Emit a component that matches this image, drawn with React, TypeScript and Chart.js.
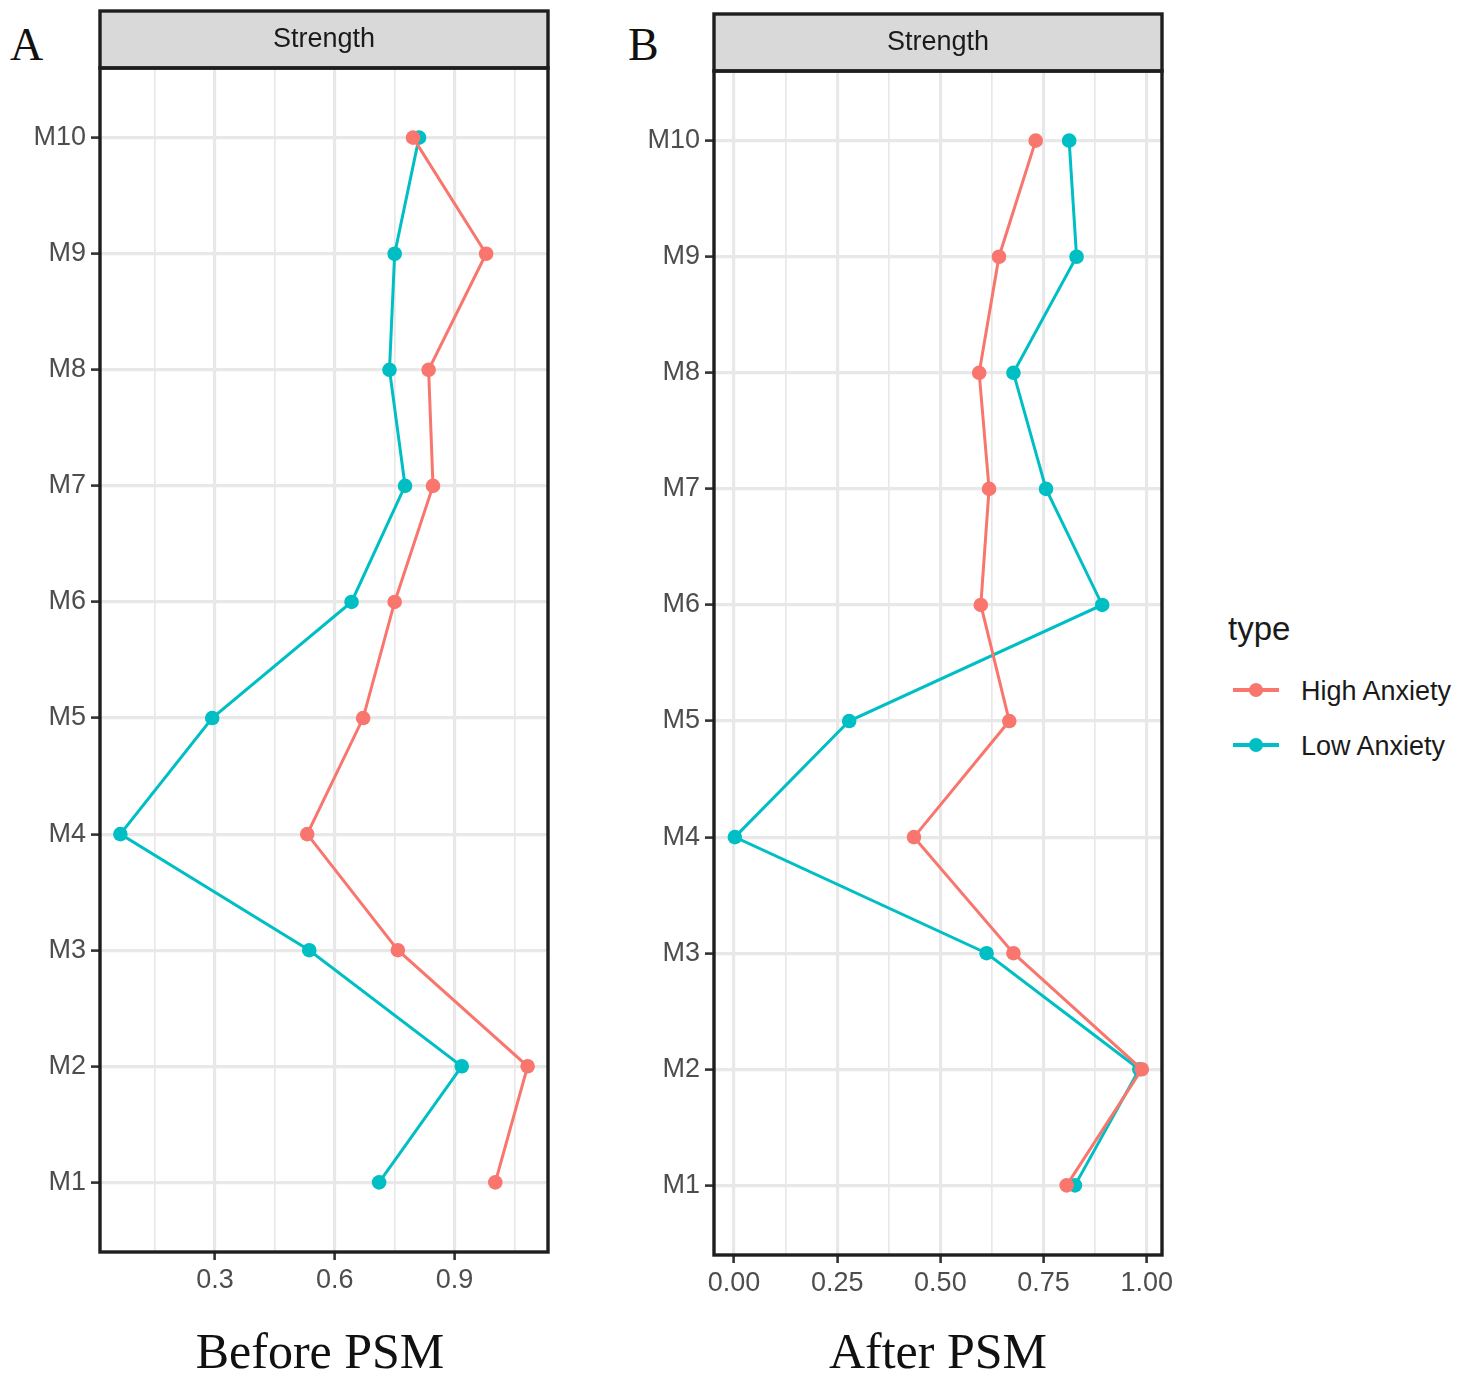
import { useEffect, useRef } from "react";
import { Chart, registerables } from "chart.js";

Chart.register(...registerables);

// --- data ---
const CATEGORIES = ["M1", "M2", "M3", "M4", "M5", "M6", "M7", "M8", "M9", "M10"];
const SERIES_NAMES = ["High Anxiety", "Low Anxiety"];
const SERIES_COLORS = ["#F8766D", "#00BFC4"];

const BEFORE_HIGH = [1.002, 1.083, 0.758, 0.531, 0.671, 0.75, 0.846, 0.835, 0.979, 0.796];
const BEFORE_LOW = [0.711, 0.918, 0.536, 0.063, 0.293, 0.642, 0.776, 0.737, 0.75, 0.811];
const AFTER_HIGH = [0.806, 0.988, 0.677, 0.436, 0.667, 0.598, 0.618, 0.594, 0.642, 0.731];
const AFTER_LOW = [0.826, 0.982, 0.612, 0.002, 0.279, 0.892, 0.756, 0.677, 0.83, 0.812];

const BEFORE_MAJOR = [0.3, 0.6, 0.9];
const BEFORE_MAJOR_LABELS = ["0.3", "0.6", "0.9"];
const BEFORE_MINOR = [0.15, 0.45, 0.75, 1.05];
const AFTER_MAJOR = [0, 0.25, 0.5, 0.75, 1.0];
const AFTER_MAJOR_LABELS = ["0.00", "0.25", "0.50", "0.75", "1.00"];
const AFTER_MINOR = [0.125, 0.375, 0.625, 0.875];

const STRIP_LABEL = "Strength";
const LEGEND_TITLE = "type";

const SANS = '"Liberation Sans", Arial, sans-serif';
const SERIF = '"Liberation Serif", "Times New Roman", serif';

interface PanelProps {
  left: number;
  top: number;
  high: number[];
  low: number[];
  xMin: number;
  xMax: number;
  major: number[];
  majorLabels: string[];
  minor: number[];
}

function Panel({ left, top, high, low, xMin, xMax, major, majorLabels, minor }: PanelProps) {
  const canvasRef = useRef<HTMLCanvasElement | null>(null);

  useEffect(() => {
    const canvas = canvasRef.current;
    if (!canvas) return;

    // strip + panel border, drawn on top like ggplot's theme_bw
    const framePlugin = {
      id: "panelFrame",
      afterDraw(chart: Chart) {
        const { ctx, chartArea } = chart;
        const { left: l, right: r, top: t, bottom: b } = chartArea;
        const stripH = 57;
        ctx.save();
        ctx.fillStyle = "#d9d9d9";
        ctx.fillRect(l, t - stripH, r - l, stripH);
        ctx.strokeStyle = "#1e1e1e";
        ctx.lineWidth = 3.4;
        ctx.strokeRect(l, t - stripH, r - l, stripH);
        ctx.strokeRect(l, t, r - l, b - t);
        ctx.fillStyle = "#1a1a1a";
        ctx.font = `27px ${SANS}`;
        ctx.textAlign = "center";
        ctx.textBaseline = "middle";
        ctx.fillText(STRIP_LABEL, (l + r) / 2, t - stripH / 2);
        ctx.restore();
      },
    };

    const allX = [...minor, ...major].sort((a, b) => a - b);
    const isMajor = (v: number) => major.includes(v);

    const makeSet = (values: number[], i: number) => ({
      label: SERIES_NAMES[i],
      data: values.map((x, k) => ({ x, y: k + 1 })),
      borderColor: SERIES_COLORS[i],
      backgroundColor: SERIES_COLORS[i],
      borderWidth: 3,
      pointRadius: 7.3,
      pointBorderWidth: 0,
      showLine: true,
    });

    const chart = new Chart(canvas, {
      type: "scatter",
      data: {
        datasets: [makeSet(high, 0), makeSet(low, 1)],
      },
      plugins: [framePlugin],
      options: {
        animation: false,
        responsive: true,
        maintainAspectRatio: false,
        layout: { padding: { top: 68, right: 22, bottom: 13, left: 0 } },
        plugins: { legend: { display: false }, tooltip: { enabled: false } },
        scales: {
          x: {
            type: "linear",
            min: xMin,
            max: xMax,
            afterBuildTicks: (scale: any) => {
              scale.ticks = allX.map((value) => ({ value }));
            },
            afterFit: (scale: any) => {
              scale.height = 45;
            },
            border: { display: false },
            grid: {
              color: "#e8e8e8",
              lineWidth: (c: any) => (c.tick && isMajor(c.tick.value) ? 3.2 : 1.7),
              tickColor: (c: any) => (c.tick && isMajor(c.tick.value) ? "#333333" : "rgba(0,0,0,0)"),
              tickWidth: 2.6,
              tickLength: 8,
            },
            ticks: {
              autoSkip: false,
              maxRotation: 0,
              padding: 4,
              color: "#4d4d4d",
              font: { family: SANS, size: 27 },
              callback: (v: any) => {
                const idx = major.indexOf(v);
                return idx >= 0 ? majorLabels[idx] : "";
              },
            },
          },
          y: {
            type: "linear",
            min: 0.4,
            max: 10.6,
            afterBuildTicks: (scale: any) => {
              scale.ticks = CATEGORIES.map((_, i) => ({ value: i + 1 }));
            },
            afterFit: (scale: any) => {
              scale.width = 100;
            },
            border: { display: false },
            grid: {
              color: "#e8e8e8",
              lineWidth: 3.2,
              tickColor: "#333333",
              tickWidth: 2.6,
              tickLength: 9,
            },
            ticks: {
              autoSkip: false,
              padding: 5,
              color: "#4d4d4d",
              font: { family: SANS, size: 27 },
              callback: (v: any) => CATEGORIES[v - 1] ?? "",
            },
          },
        },
      },
    });

    return () => {
      chart.destroy();
    };
  }, [high, low, xMin, xMax, major, majorLabels, minor]);

  return (
    <div style={{ position: "absolute", left, top, width: 570, height: 1310 }}>
      <canvas ref={canvasRef}></canvas>
    </div>
  );
}

function LegendKey({ color, top }: { color: string; top: number }) {
  return (
    <div style={{ position: "absolute", left: 1233, top, width: 46, height: 14 }}>
      <div
        style={{
          position: "absolute",
          left: 0,
          top: 5,
          width: 46,
          height: 3.5,
          background: color,
        }}
      />
      <div
        style={{
          position: "absolute",
          left: 16,
          top: -0.5,
          width: 14,
          height: 14,
          borderRadius: "50%",
          background: color,
        }}
      />
    </div>
  );
}

export default function App() {
  const letter = { position: "absolute" as const, fontFamily: SERIF, fontSize: 46, lineHeight: 1, color: "#111" };
  const caption = {
    position: "absolute" as const,
    width: 500,
    textAlign: "center" as const,
    fontFamily: SERIF,
    fontSize: 50,
    lineHeight: 1,
    color: "#111",
    top: 1326,
  };
  const legendText = { position: "absolute" as const, fontFamily: SANS, lineHeight: 1, color: "#1a1a1a" };

  return (
    <div
      style={{
        position: "absolute",
        left: 0,
        top: 0,
        width: 1476,
        height: 1390,
        background: "#ffffff",
        overflow: "hidden",
      }}
    >
      <div style={{ ...letter, left: 10, top: 22 }}>A</div>
      <div style={{ ...letter, left: 628, top: 22 }}>B</div>

      <Panel
        left={0}
        top={0}
        high={BEFORE_HIGH}
        low={BEFORE_LOW}
        xMin={0.012}
        xMax={1.134}
        major={BEFORE_MAJOR}
        majorLabels={BEFORE_MAJOR_LABELS}
        minor={BEFORE_MINOR}
      />
      <Panel
        left={614}
        top={3}
        high={AFTER_HIGH}
        low={AFTER_LOW}
        xMin={-0.0485}
        xMax={1.037}
        major={AFTER_MAJOR}
        majorLabels={AFTER_MAJOR_LABELS}
        minor={AFTER_MINOR}
      />

      <div style={{ ...caption, left: 70 }}>Before PSM</div>
      <div style={{ ...caption, left: 688 }}>After PSM</div>

      <div style={{ ...legendText, left: 1228, top: 612, fontSize: 33 }}>{LEGEND_TITLE}</div>
      <LegendKey color={SERIES_COLORS[0]} top={683} />
      <div style={{ ...legendText, left: 1301, top: 678, fontSize: 27 }}>{SERIES_NAMES[0]}</div>
      <LegendKey color={SERIES_COLORS[1]} top={738} />
      <div style={{ ...legendText, left: 1301, top: 733, fontSize: 27 }}>{SERIES_NAMES[1]}</div>
    </div>
  );
}
